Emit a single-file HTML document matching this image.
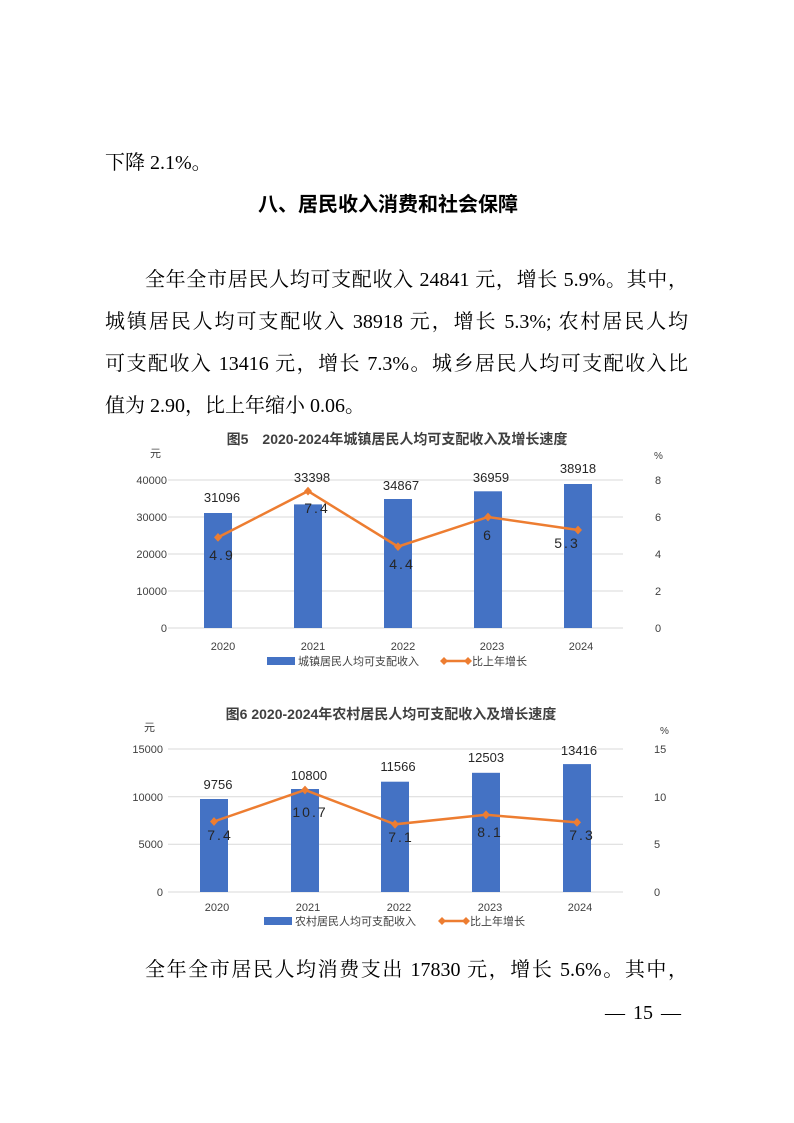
<!DOCTYPE html>
<html><head><meta charset="utf-8"><style>
body{margin:0;background:#fff;}
.page{position:relative;width:794px;height:1123px;overflow:hidden;font-family:"Liberation Serif","Noto Serif CJK SC",serif;color:#000;}
.l{position:absolute;font-size:20px;white-space:nowrap;line-height:24px;}
.j{text-align:justify;text-align-last:justify;}
svg text{font-family:"Liberation Sans","Noto Sans CJK SC",sans-serif;}
</style></head><body><div class="page">
<div class="l" style="left:105px;top:151px;">下降 2.1%。</div>
<div class="l" style="left:258px;top:193px;font-family:'Liberation Sans','Noto Sans CJK SC',sans-serif;font-weight:bold;font-size:20px;">八、居民收入消费和社会保障</div>
<div class="l j" style="left:145px;top:268px;width:543px;">全年全市居民人均可支配收入 24841 元，增长 5.9%。其中，</div>
<div class="l j" style="left:105px;top:310px;width:583px;">城镇居民人均可支配收入 38918 元，增长 5.3%; 农村居民人均</div>
<div class="l j" style="left:105px;top:352px;width:583px;">可支配收入 13416 元，增长 7.3%。城乡居民人均可支配收入比</div>
<div class="l" style="left:105px;top:394px;">值为 2.90，比上年缩小 0.06。</div>

<svg style="position:absolute;left:0;top:0" width="794" height="1123">
<!-- chart 1 -->
<g font-size="11" fill="#404040">
<text x="397" y="444" text-anchor="middle" font-size="14" font-weight="bold" fill="#404040">图5　2020-2024年城镇居民人均可支配收入及增长速度</text>
<text x="150" y="457" font-size="11">元</text>
<text x="654" y="459" font-size="10">%</text>
<g stroke="#d9d9d9" stroke-width="1">
<line x1="168" y1="480" x2="623" y2="480"/><line x1="168" y1="517" x2="623" y2="517"/><line x1="168" y1="554" x2="623" y2="554"/><line x1="168" y1="591" x2="623" y2="591"/><line x1="168" y1="628" x2="623" y2="628"/>
</g>
<g text-anchor="end"><text x="167" y="484">40000</text><text x="167" y="521">30000</text><text x="167" y="558">20000</text><text x="167" y="595">10000</text><text x="167" y="632">0</text></g>
<g><text x="655" y="484">8</text><text x="655" y="521">6</text><text x="655" y="558">4</text><text x="655" y="595">2</text><text x="655" y="632">0</text></g>
<g fill="#4472c4">
<rect x="204" y="513" width="28" height="115"/><rect x="294" y="504.4" width="28" height="123.6"/><rect x="384" y="499" width="28" height="129"/><rect x="474" y="491.3" width="28" height="136.7"/><rect x="564" y="484" width="28" height="144"/>
</g>
<g text-anchor="middle" font-size="13" fill="#262626"><text x="222" y="502">31096</text><text x="312" y="482">33398</text><text x="401" y="490">34867</text><text x="491" y="482">36959</text><text x="578" y="473">38918</text></g>
<g text-anchor="middle" font-size="14" fill="#262626" letter-spacing="2"><text x="222" y="560">4.9</text><text x="317" y="513">7.4</text><text x="402" y="569">4.4</text><text x="488" y="540">6</text><text x="567" y="548">5.3</text></g>
<polyline points="218,537.4 308,491.1 398,546.6 488,517 578,530" fill="none" stroke="#ed7d31" stroke-width="2.5"/>
<g fill="#ed7d31"><path d="M218,533l4,4.4-4,4.4-4-4.4z"/><path d="M308,486.7l4,4.4-4,4.4-4-4.4z"/><path d="M398,542.2l4,4.4-4,4.4-4-4.4z"/><path d="M488,512.6l4,4.4-4,4.4-4-4.4z"/><path d="M578,525.6l4,4.4-4,4.4-4-4.4z"/></g>
<g text-anchor="middle"><text x="223" y="650">2020</text><text x="313" y="650">2021</text><text x="403" y="650">2022</text><text x="492" y="650">2023</text><text x="581" y="650">2024</text></g>
<rect x="267" y="657" width="28" height="8" fill="#4472c4"/><text x="298" y="665">城镇居民人均可支配收入</text>
<line x1="442" y1="661" x2="470" y2="661" stroke="#ed7d31" stroke-width="2.5"/><path d="M444,657l4,4-4,4-4-4z M468,657l4,4-4,4-4-4z" fill="#ed7d31"/><text x="472" y="665">比上年增长</text>
</g>
<!-- chart 2 -->
<g font-size="11" fill="#404040">
<text x="391" y="719" text-anchor="middle" font-size="14" font-weight="bold" fill="#404040">图6 2020-2024年农村居民人均可支配收入及增长速度</text>
<text x="144" y="731" font-size="11">元</text>
<text x="660" y="734" font-size="10">%</text>
<g stroke="#d9d9d9" stroke-width="1">
<line x1="168" y1="749" x2="623" y2="749"/><line x1="168" y1="796.7" x2="623" y2="796.7"/><line x1="168" y1="844.3" x2="623" y2="844.3"/><line x1="168" y1="892" x2="623" y2="892"/>
</g>
<g text-anchor="end"><text x="163" y="753">15000</text><text x="163" y="801">10000</text><text x="163" y="848">5000</text><text x="163" y="896">0</text></g>
<g><text x="654" y="753">15</text><text x="654" y="801">10</text><text x="654" y="848">5</text><text x="654" y="896">0</text></g>
<g fill="#4472c4">
<rect x="200" y="799" width="28" height="93"/><rect x="291" y="789" width="28" height="103"/><rect x="381" y="781.7" width="28" height="110.3"/><rect x="472" y="772.8" width="28" height="119.2"/><rect x="563" y="764.1" width="28" height="127.9"/>
</g>
<g text-anchor="middle" font-size="13" fill="#262626"><text x="218" y="789">9756</text><text x="309" y="780">10800</text><text x="398" y="771">11566</text><text x="486" y="762">12503</text><text x="579" y="755">13416</text></g>
<g text-anchor="middle" font-size="14" fill="#262626" letter-spacing="2"><text x="220" y="840">7.4</text><text x="310" y="817">10.7</text><text x="401" y="842">7.1</text><text x="490" y="837">8.1</text><text x="582" y="840">7.3</text></g>
<polyline points="214,821.5 305,790 395,824.3 486,814.8 577,822.4" fill="none" stroke="#ed7d31" stroke-width="2.5"/>
<g fill="#ed7d31"><path d="M214,817.1l4,4.4-4,4.4-4-4.4z"/><path d="M305,785.6l4,4.4-4,4.4-4-4.4z"/><path d="M395,819.9l4,4.4-4,4.4-4-4.4z"/><path d="M486,810.4l4,4.4-4,4.4-4-4.4z"/><path d="M577,818l4,4.4-4,4.4-4-4.4z"/></g>
<g text-anchor="middle"><text x="217" y="911">2020</text><text x="308" y="911">2021</text><text x="399" y="911">2022</text><text x="490" y="911">2023</text><text x="580" y="911">2024</text></g>
<rect x="264" y="917" width="28" height="8" fill="#4472c4"/><text x="295" y="925">农村居民人均可支配收入</text>
<line x1="442" y1="921" x2="466" y2="921" stroke="#ed7d31" stroke-width="2.5"/><path d="M442,917l4,4-4,4-4-4z M466,917l4,4-4,4-4-4z" fill="#ed7d31"/><text x="470" y="925">比上年增长</text>
</g>
</svg>

<div class="l j" style="left:145px;top:958px;width:543px;">全年全市居民人均消费支出 17830 元，增长 5.6%。其中，</div>
<div class="l" style="left:605px;top:1001px;word-spacing:3px;">— 15 —</div>
</div></body></html>
